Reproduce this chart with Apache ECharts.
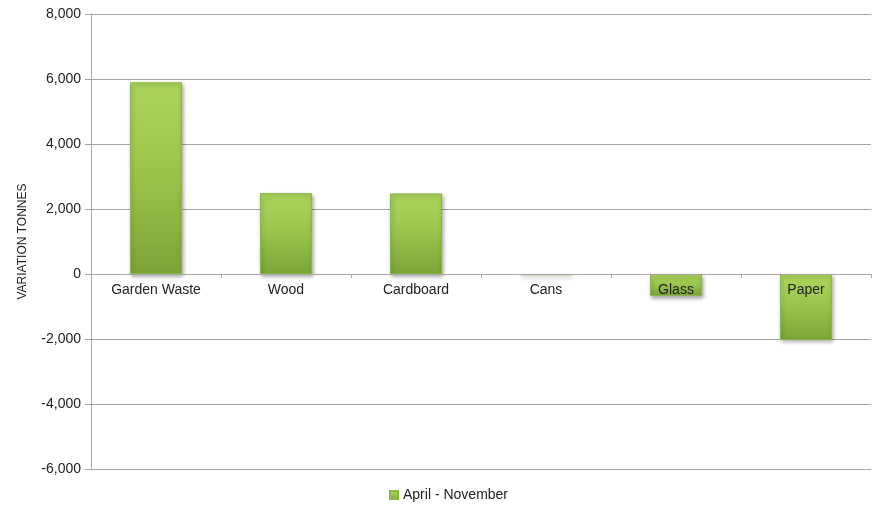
<!DOCTYPE html>
<html><head><meta charset="utf-8">
<script src="https://cdn.jsdelivr.net/npm/echarts@6/dist/echarts.min.js"></script>
<style>html,body{margin:0;padding:0;background:#fff}#c{width:874px;height:512px}</style>
</head><body><div id="c"></div>
<script>
const categories = ['Garden Waste', 'Wood', 'Cardboard', 'Cans', 'Glass', 'Paper'];
const seriesName = 'April - November';
const values = [5900, 2490, 2480, -40, -680, -2030];
const yTicks = { min: -6000, max: 8000, interval: 2000 };

const chart = echarts.init(document.getElementById('c'));
const green = new echarts.graphic.LinearGradient(0, 0, 0, 1, [
  { offset: 0, color: '#acd55c' },
  { offset: 0.5, color: '#99c44b' },
  { offset: 1, color: '#7aa438' }
]);
const gridTop = 14, gridBottom = 43, H = 512;
const plotH = H - gridTop - gridBottom;
const zeroOffset = -plotH * (0 - yTicks.min) / (yTicks.max - yTicks.min);
chart.setOption({
  animation: false,
  textStyle: { fontFamily: 'Liberation Sans, Arial, sans-serif' },
  grid: { left: 91, right: 3, top: gridTop, bottom: gridBottom },
  legend: {
    bottom: 5, left: 384,
    data: [seriesName],
    itemWidth: 8, itemHeight: 8, icon: 'rect', itemGap: 4,
    textStyle: { fontSize: 14, color: '#222' }
  },
  xAxis: {
    type: 'category', data: categories, z: 10,
    offset: zeroOffset,
    axisLine: { onZero: false, lineStyle: { color: '#a6a6a6' } },
    axisTick: { show: true, length: 4, lineStyle: { color: '#a6a6a6' } },
    axisLabel: { fontSize: 14, color: '#222', margin: 9 }
  },
  yAxis: {
    type: 'value', min: yTicks.min, max: yTicks.max, interval: yTicks.interval,
    name: 'VARIATION TONNES', nameLocation: 'middle', nameGap: 62, nameRotate: 90,
    nameTextStyle: { fontSize: 12, color: '#222' },
    axisLine: { show: true, lineStyle: { color: '#a6a6a6' } },
    axisTick: { show: true, length: 6, lineStyle: { color: '#a6a6a6' } },
    axisLabel: { fontSize: 14, color: '#222', margin: 10,
      formatter: v => v.toLocaleString('en-US') },
    splitLine: { lineStyle: { color: '#a6a6a6' } }
  },
  series: [{
    name: seriesName, type: 'bar', data: values, barWidth: '40%',
    itemStyle: {
      color: green, borderColor: '#8ab845', borderWidth: 1,
      shadowColor: 'rgba(0,0,0,0.35)', shadowBlur: 4, shadowOffsetX: 1, shadowOffsetY: 2
    }
  }]
});
</script></body></html>
